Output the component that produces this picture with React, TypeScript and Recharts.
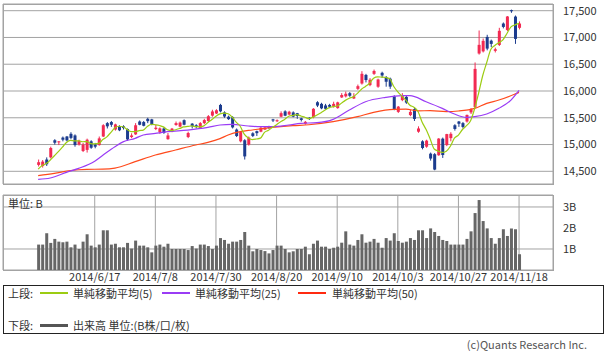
import React from 'react'
import { ComposedChart, Bar, Line, XAxis, YAxis, CartesianGrid } from 'recharts'

// gridline positions (trading-day index) and their labels
const DATE_TICKS = [14, 29, 44, 59, 74, 89, 104, 119]
const DATE_LABELS = ['2014/6/17', '2014/7/8', '2014/7/30', '2014/8/20', '2014/9/10', '2014/10/3', '2014/10/27', '2014/11/18']

const PRICE_TICKS = [14500, 15000, 15500, 16000, 16500, 17000, 17500]
const VOLUME_TICKS = [1, 2, 3]

const OPEN = [
  14620, 14600, 14720, 14760, 15080, 15040, 15130, 15150, 15200, 15170,
  15000, 14880, 14900, 15060, 15000, 14990, 15150, 15400, 15420, 15280,
  15340, 15340, 15290, 15140, 15190, 15430, 15420, 15480, 15470, 15290,
  15230, 15300, 15100, 15240, 15365, 15335, 15455, 15140, 15390, 15360,
  15310, 15400, 15440, 15540, 15580, 15740, 15600, 15520, 15510, 15280,
  15060, 15080, 15000, 15210, 15250, 15240, 15280, 15330, 15470, 15440,
  15520, 15620, 15560, 15600, 15585, 15490, 15390, 15500, 15510, 15790,
  15760, 15730, 15740, 15710, 15680, 15880, 15900, 15960, 15860, 16040,
  16140, 16300, 16110, 16320, 16080, 16340, 16255, 16230, 15900, 15610,
  15830, 15890, 15550, 15660, 15240, 15060, 14960, 14830, 14820, 14800,
  15110, 14990, 15120, 15360, 15430, 15400, 15430, 15600, 15700, 16700,
  16740, 17010, 16940, 16750, 16860, 17260, 17140, 17510, 17390, 17180,
]
const HIGH = [
  14720, 14710, 14760, 14960, 15100, 15065, 15150, 15160, 15230, 15190,
  15090, 15030, 15110, 15080, 15030, 15150, 15380, 15420, 15440, 15390,
  15360, 15360, 15300, 15210, 15400, 15450, 15440, 15500, 15480, 15370,
  15320, 15320, 15215, 15310, 15430, 15430, 15470, 15240, 15400, 15380,
  15420, 15480, 15550, 15650, 15660, 15760, 15620, 15540, 15530, 15300,
  15250, 15100, 15150, 15230, 15260, 15340, 15340, 15350, 15480, 15470,
  15620, 15640, 15630, 15620, 15590, 15500, 15440, 15510, 15680, 15810,
  15780, 15760, 15760, 15800, 15800, 15960, 15990, 15980, 15960, 16120,
  16370, 16320, 16240, 16400, 16230, 16360, 16280, 16250, 15920, 15720,
  15960, 15910, 15650, 15680, 15340, 15080, 15090, 14850, 14840, 15120,
  15130, 15200, 15230, 15380, 15440, 15420, 15560, 15680, 16533, 17130,
  16980, 17050, 16960, 16810, 17180, 17280, 17400, 17520, 17410, 17300,
]
const LOW = [
  14590, 14570, 14600, 14740, 15000, 14990, 15060, 15060, 15100, 14960,
  14980, 14860, 14850, 14920, 14930, 14980, 15140, 15300, 15330, 15260,
  15250, 15280, 15070, 15120, 15180, 15360, 15340, 15400, 15360, 15270,
  15200, 15200, 15090, 15230, 15350, 15320, 15360, 15120, 15300, 15300,
  15290, 15380, 15420, 15520, 15570, 15600, 15500, 15460, 15300, 15140,
  15040, 14720, 14980, 15140, 15160, 15230, 15270, 15290, 15420, 15420,
  15510, 15530, 15550, 15510, 15480, 15430, 15370, 15460, 15490, 15700,
  15660, 15650, 15680, 15690, 15670, 15870, 15880, 15890, 15850, 16020,
  16120, 16160, 16090, 16300, 16060, 16250, 16080, 16040, 15640, 15590,
  15810, 15760, 15530, 15440, 15220, 14910, 14940, 14700, 14520, 14790,
  14750, 14970, 15060, 15260, 15330, 15300, 15410, 15570, 15680, 16680,
  16720, 16760, 16820, 16720, 16840, 17170, 17120, 17460, 16880, 17150,
]
const CLOSE = [
  14670, 14681, 14632, 14935, 15034, 15060, 15090, 15077, 15124, 14990,
  15070, 15000, 15090, 14940, 14960, 15115, 15361, 15340, 15369, 15376,
  15266, 15308, 15095, 15170, 15360, 15369, 15350, 15437, 15379, 15314,
  15302, 15216, 15170, 15297, 15400, 15410, 15370, 15215, 15343, 15328,
  15400, 15457, 15529, 15618, 15640, 15620, 15523, 15474, 15320, 15159,
  15232, 14778, 15130, 15161, 15213, 15314, 15318, 15322, 15449, 15454,
  15586, 15539, 15613, 15521, 15534, 15459, 15424, 15476, 15668, 15728,
  15676, 15668, 15705, 15760, 15788, 15925, 15948, 15911, 15900, 16090,
  16321, 16205, 16210, 16374, 16215, 16290, 16173, 16082, 15661, 15708,
  15910, 15783, 15610, 15478, 15300, 14936, 15073, 14738, 14532, 15111,
  14804, 15195, 15200, 15291, 15388, 15329, 15553, 15658, 16413, 16862,
  16937, 16792, 16880, 16780, 17124, 17197, 17392, 17490, 16973, 17260,
]

// 単純移動平均(5)
const MA5 = [
  14541, 14610, 14644, 14711, 14790, 14868, 14950, 15039, 15077, 15068,
  15070, 15052, 15055, 15018, 15012, 15021, 15093, 15143, 15229, 15312,
  15342, 15332, 15283, 15243, 15240, 15260, 15269, 15337, 15379, 15370,
  15356, 15330, 15276, 15260, 15277, 15299, 15329, 15338, 15348, 15333,
  15331, 15349, 15411, 15466, 15529, 15573, 15586, 15575, 15515, 15419,
  15342, 15193, 15124, 15092, 15103, 15119, 15227, 15266, 15323, 15371,
  15426, 15470, 15528, 15543, 15559, 15533, 15510, 15483, 15512, 15551,
  15594, 15643, 15689, 15707, 15719, 15769, 15825, 15866, 15894, 15955,
  16034, 16085, 16145, 16240, 16265, 16259, 16252, 16227, 16084, 15983,
  15907, 15829, 15734, 15698, 15616, 15421, 15279, 15105, 14916, 14878,
  14852, 14876, 14968, 15120, 15176, 15281, 15352, 15444, 15668, 15963,
  16285, 16532, 16777, 16850, 16903, 16955, 17075, 17197, 17235, 17262,
]

// 単純移動平均(25), read at these days
const MA25_AT = [0, 3, 7, 10, 14, 16, 19, 21, 24, 26, 29, 32, 37, 42, 45, 48, 52, 55, 58, 62, 65, 69, 73, 77, 81, 86, 90, 92, 96, 100, 103, 106, 108, 111, 114, 117, 119]
const MA25 = [14350, 14375, 14480, 14555, 14690, 14800, 14960, 15050, 15116, 15178, 15209, 15240, 15271, 15321, 15365, 15377, 15346, 15334, 15334, 15365, 15396, 15408, 15470, 15645, 15800, 15881, 15912, 15912, 15800, 15676, 15570, 15508, 15520, 15570, 15676, 15830, 16010]

// 単純移動平均(50), read at these days
const MA50_AT = [0, 4, 8, 12, 16, 19, 24, 29, 34, 39, 42, 45, 47, 50, 53, 56, 60, 63, 67, 73, 79, 83, 88, 91, 94, 97, 101, 104, 108, 111, 114, 118, 119]
const MA50 = [14418, 14460, 14515, 14537, 14540, 14560, 14680, 14804, 14898, 14991, 15040, 15110, 15178, 15240, 15272, 15303, 15334, 15352, 15370, 15427, 15520, 15601, 15657, 15660, 15630, 15632, 15614, 15626, 15676, 15769, 15831, 15943, 15975]

// 出来高 (B)
const VOLUME = [
  1.21, 1.21, 1.75, 1.29, 1.48, 1.35, 1.32, 1.35, 1.08, 1.21,
  1.0, 1.35, 1.7, 1.16, 1.08, 1.21, 1.89, 1.89, 1.21, 1.25,
  1.08, 1.08, 1.29, 1.02, 1.4, 1.16, 1.16, 1.08, 0.84, 1.16,
  1.21, 1.11, 1.25, 1.0, 1.0, 1.0, 1.0, 0.95, 1.14, 1.02,
  1.21, 1.21, 1.14, 1.0, 1.16, 1.52, 1.43, 1.25, 1.35, 1.35,
  1.43, 1.81, 1.16, 0.89, 1.0, 0.95, 0.9, 0.79, 0.95, 1.16,
  1.16, 1.0, 0.84, 0.89, 1.0, 1.0, 1.11, 0.75, 1.25, 1.4,
  1.11, 1.11, 1.0, 1.06, 1.11, 1.3, 1.84, 1.21, 1.16, 1.43,
  1.7, 1.3, 1.35, 1.48, 1.3, 1.06, 1.52, 1.4, 1.75, 1.38,
  1.3, 1.35, 1.52, 1.43, 1.89, 1.89, 1.52, 1.98, 1.81, 1.62,
  1.43, 1.38, 1.21, 1.21, 1.21, 1.21, 1.48, 1.84, 2.71, 3.33,
  2.33, 1.98, 1.52, 1.25, 1.52, 1.94, 1.62, 1.98, 1.94, 0.75,
]

const RED = '#f22a52'
const BLUE = '#1c3c8e'
const GRID = '#a3a3a3'
const MA5_COLOR = '#9ccc12'
const MA25_COLOR = '#9a3cf5'
const MA50_COLOR = '#ff4a1c'
const X_DOMAIN = [-8.7, 127.4]

const rows = CLOSE.map((close, i) => ({
  i,
  open: OPEN[i],
  high: HIGH[i],
  low: LOW[i],
  close,
  vol: VOLUME[i],
  ma5: MA5[i],
  ma25: MA25_AT.includes(i) ? MA25[MA25_AT.indexOf(i)] : null,
  ma50: MA50_AT.includes(i) ? MA50[MA50_AT.indexOf(i)] : null,
}))

function Candle(props: any) {
  const { x, y, width, height, payload } = props
  if (!payload || y == null) return null
  const top = Math.min(y, y + height)
  const h = Math.abs(height)
  const k = payload.high > payload.low ? h / (payload.high - payload.low) : 0
  const color = payload.close >= payload.open ? RED : BLUE
  const bodyTop = top + (payload.high - Math.max(payload.open, payload.close)) * k
  const bodyH = Math.max(1, Math.abs(payload.close - payload.open) * k)
  const cx = x + width / 2
  return (
    <g>
      <line x1={cx} x2={cx} y1={top} y2={top + h} stroke={color} strokeWidth={1} />
      <rect x={x} y={bodyTop} width={width} height={bodyH} fill={color} />
    </g>
  )
}

const tickStyle = { fontSize: 11, fill: '#333' }

// legend pieces, positions relative to the legend box
function Swatch({ left, top, color, h = 2 }: { left: number; top: number; color: string; h?: number }) {
  return <div style={{ position: 'absolute', left, top, width: 28, height: h, background: color }} />
}
function Label({ left, top, children }: { left: number; top: number; children: React.ReactNode }) {
  return <div style={{ position: 'absolute', left, top, whiteSpace: 'nowrap' }}>{children}</div>
}

export default function App() {
  return (
    <div
      style={{
        position: 'absolute',
        left: 0,
        top: 0,
        width: 610,
        height: 351,
        background: '#fff',
        overflow: 'hidden',
        fontFamily: '"Noto Sans CJK JP", "Noto Sans", sans-serif',
        color: '#333',
      }}
    >
      <div style={{ position: 'absolute', left: 0, top: 0 }}>
        <ComposedChart width={610} height={190} data={rows} margin={{ top: 4, right: 0, bottom: 6, left: 3 }}>
          <CartesianGrid stroke={GRID} />
          <XAxis
            type="number"
            dataKey="i"
            domain={X_DOMAIN}
            ticks={DATE_TICKS}
            allowDataOverflow
            height={0}
            tick={false}
            axisLine={false}
            tickLine={false}
          />
          <YAxis
            orientation="right"
            type="number"
            domain={[14263, 17625]}
            ticks={PRICE_TICKS}
            allowDataOverflow
            width={57}
            axisLine={false}
            tickLine={false}
            tickSize={0}
            tickMargin={10}
            tick={tickStyle}
            tickFormatter={(v: number) => v.toLocaleString('en-US')}
          />
          <Bar
            dataKey={(d: any) => [d.low, d.high]}
            barSize={3}
            shape={<Candle />}
            isAnimationActive={false}
          />
          <Line type="monotone" dataKey="ma50" stroke={MA50_COLOR} strokeWidth={1.2} dot={false} connectNulls isAnimationActive={false} />
          <Line type="monotone" dataKey="ma25" stroke={MA25_COLOR} strokeWidth={1.2} dot={false} connectNulls isAnimationActive={false} />
          <Line type="monotone" dataKey="ma5" stroke={MA5_COLOR} strokeWidth={1.2} dot={false} isAnimationActive={false} />
        </ComposedChart>
      </div>
      <div style={{ position: 'absolute', left: 3, top: 4, width: 551, height: 181, border: `1px solid ${GRID}`, boxSizing: 'border-box', pointerEvents: 'none' }} />

      <div style={{ position: 'absolute', left: 0, top: 190 }}>
        <ComposedChart width={610} height={100} data={rows} margin={{ top: 5, right: 0, bottom: 0, left: 3 }}>
          <CartesianGrid stroke={GRID} />
          <XAxis
            type="number"
            dataKey="i"
            domain={X_DOMAIN}
            ticks={DATE_TICKS}
            allowDataOverflow
            interval={0}
            height={20}
            axisLine={false}
            tickLine={false}
            tickSize={0}
            tickMargin={3}
            tick={tickStyle}
            tickFormatter={(v: number) => DATE_LABELS[DATE_TICKS.indexOf(v)] ?? ''}
          />
          <YAxis
            orientation="right"
            type="number"
            domain={[0, 3.57]}
            ticks={VOLUME_TICKS}
            allowDataOverflow
            width={57}
            axisLine={false}
            tickLine={false}
            tickSize={0}
            tickMargin={10}
            tick={tickStyle}
            tickFormatter={(v: number) => `${v}B`}
          />
          <Bar dataKey="vol" barSize={3} fill="#666" isAnimationActive={false} />
        </ComposedChart>
      </div>
      <div style={{ position: 'absolute', left: 3, top: 195, width: 551, height: 76, border: `1px solid ${GRID}`, boxSizing: 'border-box', pointerEvents: 'none' }} />
      <div style={{ position: 'absolute', left: 8, top: 196, fontSize: 11, lineHeight: '14px' }}>単位: B</div>

      <div
        style={{
          position: 'absolute',
          left: 3,
          top: 285,
          width: 601,
          height: 49,
          border: '1px solid #222',
          boxSizing: 'border-box',
          fontSize: 11,
          lineHeight: '14px',
        }}
      >
        <Label left={4} top={0}>上段:</Label>
        <Swatch left={36} top={6} color={MA5_COLOR} />
        <Label left={69} top={0}>単純移動平均(5)</Label>
        <Swatch left={158} top={6} color={MA25_COLOR} />
        <Label left={191} top={0}>単純移動平均(25)</Label>
        <Swatch left={294} top={6} color="#ff2a10" />
        <Label left={328} top={0}>単純移動平均(50)</Label>

        <Label left={4} top={32}>下段:</Label>
        <Swatch left={36} top={38} color="#555" h={3} />
        <Label left={69} top={32}>出来高 単位:(B株/口/枚)</Label>
      </div>
      <div style={{ position: 'absolute', right: 23, top: 337, fontSize: 11, lineHeight: '14px', color: '#555' }}>
        (c)Quants Research Inc.
      </div>
    </div>
  )
}
